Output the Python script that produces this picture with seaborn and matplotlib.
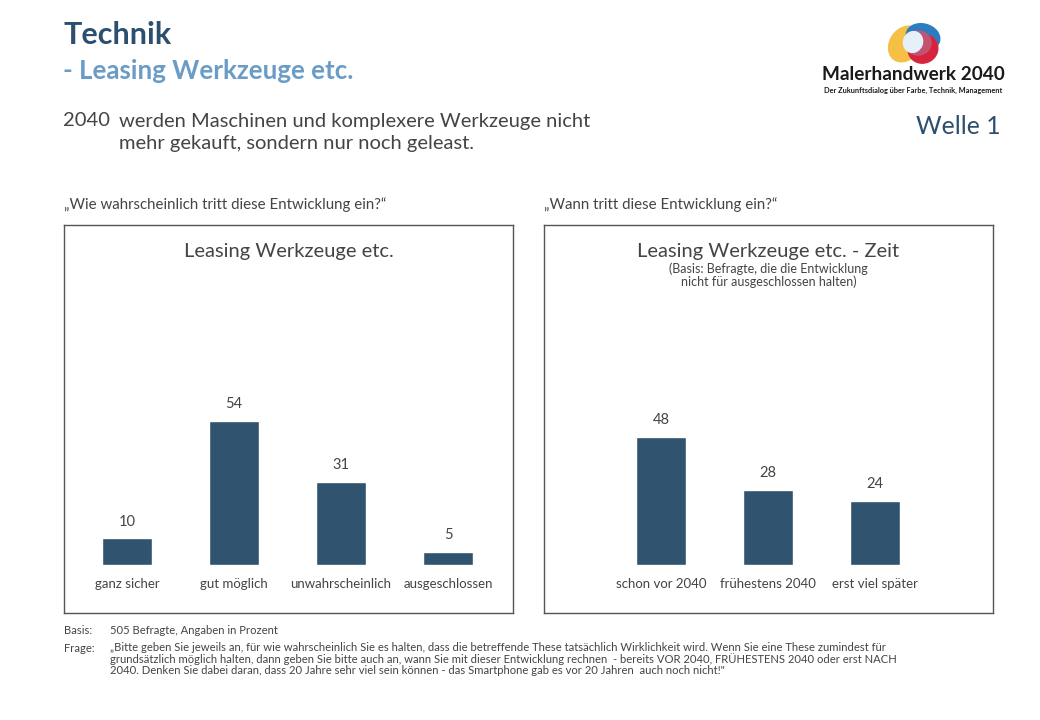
import pandas as pd
import matplotlib
matplotlib.use('Agg')
import matplotlib.pyplot as plt
import seaborn as sns
from matplotlib.patches import Ellipse

# Daten
wahrsch_labels = ['ganz sicher', 'gut möglich', 'unwahrscheinlich', 'ausgeschlossen']
wahrsch_werte = [10, 54, 31, 5]
zeit_labels = ['schon vor 2040', 'frühestens 2040', 'erst viel später']
zeit_werte = [48, 28, 24]

W, H = 1040, 720
bar_color = '#30536f'
text_grey = '#444444'
dark_blue = '#2d4f6e'
light_blue = '#6a9cc6'

sns.set_theme(style='white')
plt.rcParams['font.family'] = ['Lato', 'DejaVu Sans']

fig = plt.figure(figsize=(W / 100, H / 100), dpi=100)


def fx(x):
    return x / W


def fy(y):
    return 1 - y / H


# Kopfbereich
fig.text(fx(63), fy(35), 'Technik', fontsize=22, fontweight='bold', color=dark_blue, va='center')
fig.text(fx(63), fy(71), '- Leasing Werkzeuge etc.', fontsize=18.6, fontweight='bold', color=light_blue, va='center')
fig.text(fx(63), fy(121), '2040', fontsize=14.5, color=text_grey, va='center')
fig.text(fx(119), fy(121), 'werden Maschinen und komplexere Werkzeuge nicht', fontsize=14.5, color=text_grey, va='center')
fig.text(fx(119), fy(143), 'mehr gekauft, sondern nur noch geleast.', fontsize=14.5, color=text_grey, va='center')
fig.text(fx(1001), fy(127), 'Welle 1', fontsize=17.8, color=dark_blue, va='center', ha='right')

# Logo
lax = fig.add_axes([fx(884), fy(66), fx(60), 46 / H])
lax.set_xlim(0, 60)
lax.set_ylim(0, 46)
lax.axis('off')
lax.add_patch(Ellipse((21, 22), 30, 38, angle=-35, color='#f6bf45'))
lax.add_patch(Ellipse((39, 29), 34, 26, angle=-15, color='#2c7cc0'))
lax.add_patch(Ellipse((39, 17), 30, 28, angle=25, color='#d7233d'))
lax.add_patch(Ellipse((34, 23), 26, 24, angle=0, color='#c05a78', alpha=0.85))
lax.add_patch(Ellipse((29, 24), 19, 21, angle=-20, color='#e6f0f8'))
fig.text(fx(913), fy(75), 'Malerhandwerk 2040', fontsize=13.7, fontweight='bold', color='#1a1a1a', ha='center', va='center')
fig.text(fx(913), fy(90), 'Der Zukunftsdialog über Farbe, Technik, Management', fontsize=5.3, fontweight='bold', color='#1a1a1a', ha='center', va='center')

# Fragen
fig.text(fx(64), fy(205), '„Wie wahrscheinlich tritt diese Entwicklung ein?“', fontsize=10.8, color=text_grey, va='center')
fig.text(fx(544), fy(205), '„Wann tritt diese Entwicklung ein?“', fontsize=10.8, color=text_grey, va='center')


def panel(left, labels, values, xlim, title, sub=None):
    ax = fig.add_axes([fx(left), fy(613), fx(449), 388 / H])
    df = pd.DataFrame({'kat': labels, 'wert': values})
    sns.barplot(data=df, x='kat', y='wert', color=bar_color, width=0.47,
                saturation=1, ax=ax)
    ax.set_xlim(*xlim)
    ax.set_ylim(-18, 127.3)
    ax.bar_label(ax.containers[0], padding=7, fontsize=10.5, color=text_grey)
    for i, lab in enumerate(labels):
        ax.text(i, -7.2, lab, ha='center', va='center', fontsize=9.5, color=text_grey)
    ax.set_xticks([])
    ax.set_yticks([])
    ax.set_xlabel('')
    ax.set_ylabel('')
    for s in ax.spines.values():
        s.set_visible(True)
        s.set_color('#555555')
        s.set_linewidth(1)
    ax.text(0.5, 1 - 26 / 388, title, transform=ax.transAxes, ha='center', va='center',
            fontsize=14.5, color=text_grey)
    if sub:
        ax.text(0.5, 1 - 50 / 388, sub, transform=ax.transAxes, ha='center', va='center',
                fontsize=9, color=text_grey, linespacing=1.05)
    return ax


panel(64, wahrsch_labels, wahrsch_werte, (-0.589, 3.607), 'Leasing Werkzeuge etc.')
panel(544, zeit_labels, zeit_werte, (-1.093, 3.103), 'Leasing Werkzeuge etc. - Zeit',
      '(Basis: Befragte, die die Entwicklung\nnicht für ausgeschlossen halten)')

# Fußnote
fs = 8.1
fig.text(fx(64), fy(630), 'Basis:', fontsize=fs, color=text_grey, va='center')
fig.text(fx(110), fy(630), '505 Befragte, Angaben in Prozent', fontsize=fs, color=text_grey, va='center')
fig.text(fx(64), fy(648), 'Frage:', fontsize=fs, color=text_grey, va='center')
frage = ('„Bitte geben Sie jeweils an, für wie wahrscheinlich Sie es halten, dass die betreffende These tatsächlich Wirklichkeit wird. Wenn Sie eine These zumindest für\n'
         'grundsätzlich möglich halten, dann geben Sie bitte auch an, wann Sie mit dieser Entwicklung rechnen  - bereits VOR 2040, FRÜHESTENS 2040 oder erst NACH\n'
         '2040. Denken Sie dabei daran, dass 20 Jahre sehr viel sein können - das Smartphone gab es vor 20 Jahren  auch noch nicht!"')
fig.text(fx(110), fy(642), frage, fontsize=fs, color=text_grey, va='top', linespacing=1.0)

fig.savefig('out.png', dpi=100, facecolor='white')
